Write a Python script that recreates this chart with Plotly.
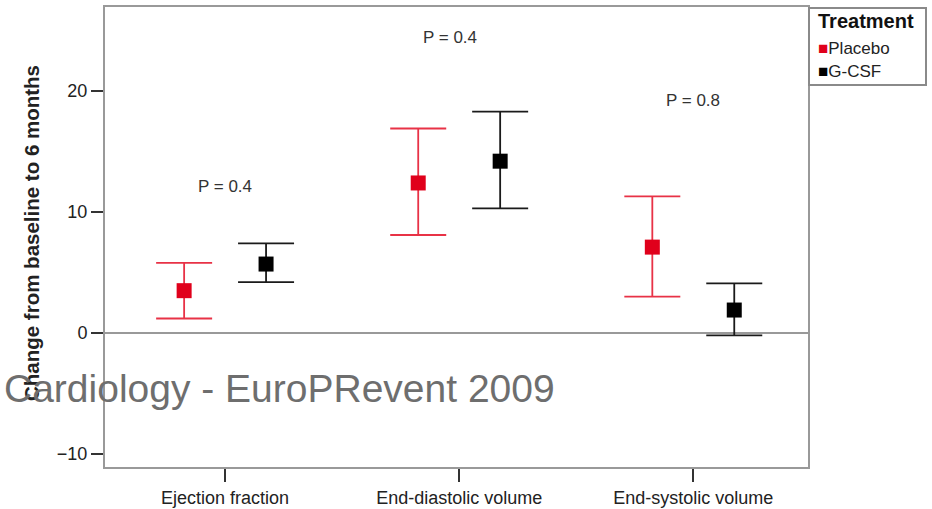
import plotly.graph_objects as go

categories = ["Ejection fraction", "End-diastolic volume", "End-systolic volume"]
placebo_mean = [3.5, 12.4, 7.1]
placebo_low = [1.2, 8.1, 3.0]
placebo_high = [5.8, 16.9, 11.3]
gcsf_mean = [5.7, 14.2, 1.9]
gcsf_low = [4.2, 10.3, -0.2]
gcsf_high = [7.4, 18.3, 4.1]
p_labels = ["P = 0.4", "P = 0.4", "P = 0.8"]
p_x = [0.0, 0.96, 2.0]
p_y = [12.1, 24.4, 19.2]
y_ticks = [-10, 0, 10, 20]

offset = 0.175
idx = list(range(len(categories)))

RED = "#e0001b"
FONT = "Liberation Sans, Arial, sans-serif"

# plot area target (page pixels): x 105..808, y 7..467 ; body margin removed below
L, T = 105, 7

fig = go.Figure()

def add_series(name, mean, low, high, color, bar_color, offs):
    fig.add_trace(go.Scatter(
        x=[i + offs for i in idx], y=mean, mode="markers", name=name,
        marker=dict(symbol="square", size=15, color=color),
        error_y=dict(type="data", symmetric=False,
                     array=[h - m for h, m in zip(high, mean)],
                     arrayminus=[m - l for m, l in zip(mean, low)],
                     color=bar_color, thickness=1.8, width=28),
        showlegend=False,
    ))

add_series("Placebo", placebo_mean, placebo_low, placebo_high, RED, "#e83246", -offset)
add_series("G-CSF", gcsf_mean, gcsf_low, gcsf_high, "#000000", "#1a1a1a", offset)

for t, x, y in zip(p_labels, p_x, p_y):
    fig.add_annotation(x=x, y=y, text=t, showarrow=False,
                       font=dict(family=FONT, size=17, color="#333333"))

# y-axis title
fig.add_annotation(xref="paper", yref="paper", x=(31 - 105) / 703, y=(467 - 233) / 460,
                   xanchor="center", yanchor="middle",
                   text="<b>Change from baseline to 6 months</b>", textangle=-90,
                   showarrow=False, font=dict(family=FONT, size=20.5, color="#222222"))

# legend box (manual, like the reference)
fig.add_shape(type="rect", xref="paper", yref="paper", x0=(809 - 105) / 703, x1=(926 - 105) / 703,
              y0=(467 - 85) / 460, y1=(467 - 8) / 460, line=dict(color="#8a8a8a", width=2))
fig.add_annotation(xref="paper", yref="paper", x=(816 - 105) / 703, y=(467 - 21) / 460,
                   xanchor="left", yanchor="middle",
                   text="<b>Treatment</b>", showarrow=False,
                   font=dict(family=FONT, size=20, color="#111111"))
fig.add_annotation(xref="paper", yref="paper", x=(816 - 105) / 703, y=(467 - 48) / 460,
                   xanchor="left", yanchor="middle",
                   text=f'<span style="color:{RED}">■</span>Placebo', showarrow=False,
                   font=dict(family=FONT, size=17, color="#222222"))
fig.add_annotation(xref="paper", yref="paper", x=(816 - 105) / 703, y=(467 - 72) / 460,
                   xanchor="left", yanchor="middle",
                   text='<span style="color:#000">■</span>G-CSF', showarrow=False,
                   font=dict(family=FONT, size=17, color="#222222"))

# watermark
fig.add_annotation(xref="paper", yref="paper", x=(279 - 105) / 703, y=(467 - 388) / 460,
                   xanchor="center", yanchor="middle",
                   text="Cardiology - EuroPRevent 2009", showarrow=False,
                   font=dict(family=FONT, size=39, color="#6e6e6e"))

fig.update_layout(
    width=932, height=509,
    margin=dict(l=L, r=932 - L - 703, t=T, b=509 - T - 460),
    paper_bgcolor="white", plot_bgcolor="white",
    font=dict(family=FONT, size=15, color="#222222"),
    xaxis=dict(range=[-0.513, 2.49], tickvals=idx, ticktext=categories,
               ticks="outside", ticklen=13, tickwidth=1.5, tickcolor="#333",
               showline=True, mirror=True, linecolor="#999", linewidth=2,
               showgrid=False, zeroline=False, automargin=False,
               tickfont=dict(family=FONT, size=18, color="#222")),
    yaxis=dict(range=[-11.07, 26.94], tickvals=y_ticks,
               ticks="outside", ticklen=12, tickwidth=1.5, tickcolor="#333",
               showline=True, mirror=True, linecolor="#999", linewidth=2,
               showgrid=False, zeroline=True, zerolinecolor="#999", zerolinewidth=1.5,
               automargin=False,
               tickfont=dict(family=FONT, size=18, color="#222")),
)

fig.write_html("out.html", config={"displayModeBar": False},
               post_script="document.body.style.margin='0';document.body.style.overflow='hidden';")
